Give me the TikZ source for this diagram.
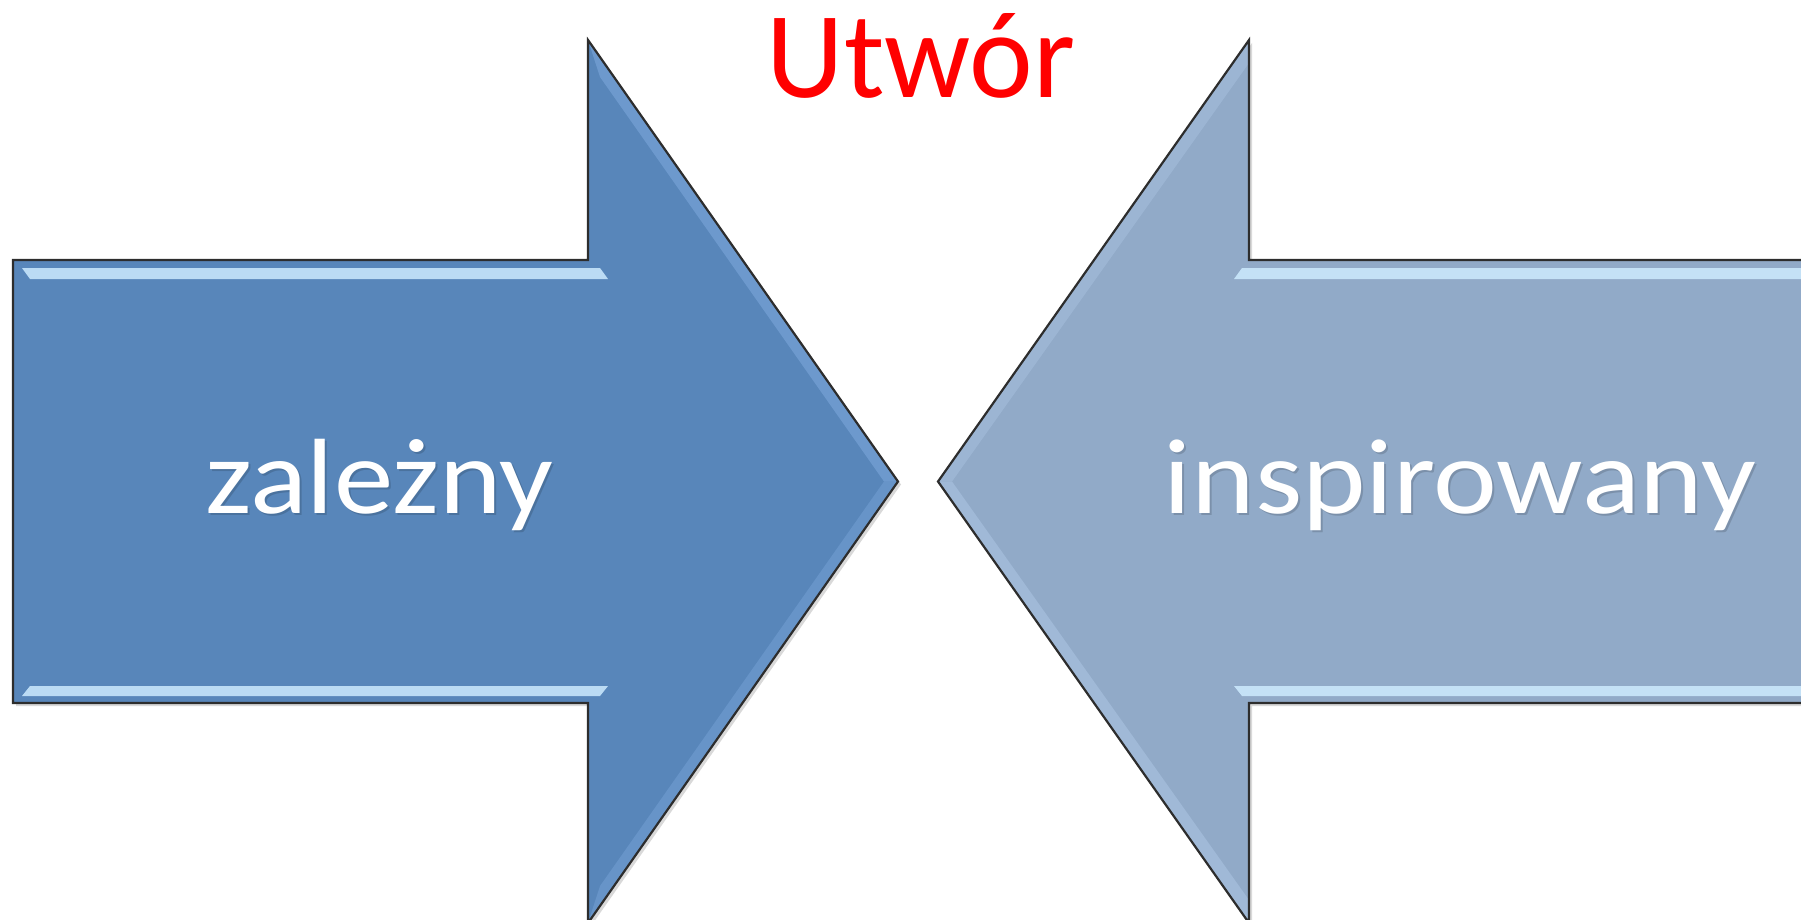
\documentclass[tikz,border=0pt]{standalone}
\usepackage{fontspec}
\usepackage{graphicx}
\setmainfont{Carlito}
\definecolor{leftfill}{RGB}{88,134,186}
\definecolor{leftlight}{RGB}{118,162,214}
\definecolor{rightfill}{RGB}{145,170,200}
\definecolor{rightlight}{RGB}{170,195,225}
\definecolor{edgecol}{RGB}{45,45,45}
\definecolor{hl}{RGB}{205,235,255}
\begin{document}
\begin{tikzpicture}[x=1pt,y=-1pt,
  arrowshape/.style={draw=edgecol,line width=2.2pt,line join=miter},
  shadowshape/.style={fill=black,opacity=0.15},
  stripe/.style={fill=hl,opacity=0.85},
  lbl/.style={text=white,font=\fontsize{107}{120}\selectfont,anchor=base,inner sep=0pt},
  lblshadow/.style={text=black,opacity=0.15,font=\fontsize{107}{120}\selectfont,anchor=base,inner sep=0pt},
  title/.style={text=red,font=\fontsize{123}{140}\selectfont,anchor=base,inner sep=0pt}]
\useasboundingbox (0,0) rectangle (1801,920);
% shadows
\fill[shadowshape] (16,263) -- (591,263) -- (591,43) -- (901,484.5) -- (591,926) -- (591,706) -- (16,706) -- cycle;
\fill[shadowshape] (1813,263) -- (1252,263) -- (1252,43) -- (941,484.5) -- (1252,926) -- (1252,706) -- (1813,706) -- cycle;
% left arrow
\fill[leftfill] (13,260) -- (588,260) -- (588,40) -- (898,481.5) -- (588,923) -- (588,703) -- (13,703) -- cycle;
\fill[leftlight,opacity=0.7] (588,40) -- (898,481.5) -- (884,481.5) -- (600,77) -- cycle;
\fill[leftlight,opacity=0.5] (588,923) -- (898,481.5) -- (884,481.5) -- (600,886) -- cycle;
\fill[stripe] (22,268) -- (600,268) -- (608,279) -- (30,279) -- cycle;
\fill[stripe] (22,696) -- (600,696) -- (608,686) -- (30,686) -- cycle;
\draw[arrowshape] (13,260) -- (588,260) -- (588,40) -- (898,481.5) -- (588,923) -- (588,703) -- (13,703) -- cycle;
% right arrow
\fill[rightfill] (1810,260) -- (1249,260) -- (1249,40) -- (938,481.5) -- (1249,923) -- (1249,703) -- (1810,703) -- cycle;
\fill[rightlight,opacity=0.6] (938,481.5) -- (1249,923) -- (1249,900) -- (952,481.5) -- cycle;
\fill[rightlight,opacity=0.45] (938,481.5) -- (1249,40) -- (1249,63) -- (952,481.5) -- cycle;
\fill[stripe] (1810,268) -- (1242,268) -- (1234,279) -- (1810,279) -- cycle;
\fill[stripe] (1810,696) -- (1242,696) -- (1234,686) -- (1810,686) -- cycle;
\draw[arrowshape] (1810,260) -- (1249,260) -- (1249,40) -- (938,481.5) -- (1249,923) -- (1249,703) -- (1810,703) -- cycle;
% texts
\node[lblshadow] (zalsh) at (381,515) {\scalebox{1.11}[1]{zależny}};
\node[lbl] (zal) at (379,513) {\scalebox{1.11}[1]{zależny}};
\node[lblshadow] (inssh) at (1462,515) {\scalebox{1.13}[1]{inspirowany}};
\node[lbl] (ins) at (1460,513) {\scalebox{1.13}[1]{inspirowany}};
\node[title] (utwor) at (921,98) {\scalebox{0.98}[1]{Utwór}};
\end{tikzpicture}
\end{document}
